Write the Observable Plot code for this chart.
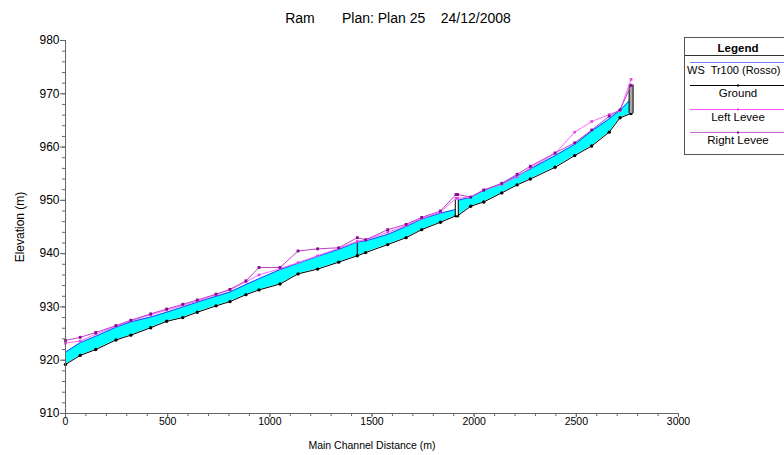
<!DOCTYPE html>
<html>
<head>
<meta charset="utf-8">
<script src="https://cdn.jsdelivr.net/npm/d3@7"></script>
<script src="https://cdn.jsdelivr.net/npm/@observablehq/plot@0.6"></script>
<style>
  body { margin: 0; background: #fff; font-family: "Liberation Sans", Arial, sans-serif; }
  #wrap { position: relative; width: 784px; height: 455px; overflow: hidden; background: #fff; }
  #chart { position: absolute; left: 0; top: 0; }
  #title { position: absolute; top: 10px; left: 0; width: 796px; text-align: center; font-size: 14px; white-space: pre; color: #000; }
  #legend { position: absolute; left: 684px; top: 37px; width: 108px; height: 118px; border: 1px solid #555; background: #fff; box-sizing: border-box; }
  #legend .row { position: absolute; left: 0; width: 106px; text-align: center; font-size: 11.5px; line-height: 14px; white-space: pre; color: #000; }
  #legend .row.first { text-align: left; left: 2px; font-size: 11px; }
  #legend .hdr { font-weight: bold; }
  #legend .sep { position: absolute; left: 0; width: 106px; height: 1px; background: #333; }
  #legend svg { position: absolute; left: 0; }
</style>
</head>
<body>
<div id="wrap">
  <div id="chart"></div>
  <div id="title">Ram       Plan: Plan 25    24/12/2008</div>
  <div id="legend"></div>
</div>
<script>
// Profile stations along the main channel (m)
const stations = [0, 72, 148, 247, 320, 417, 495, 574, 645, 737, 805, 883, 947, 1050, 1138, 1234, 1337, 1428, 1469, 1577, 1667, 1743, 1835, 1911, 1919, 1983, 2047, 2135, 2210, 2275, 2396, 2492, 2575, 2661, 2714, 2768];
// Channel invert (m)
const ground = [919.2, 920.9, 922.0, 923.8, 924.7, 926.1, 927.3, 928.0, 929.0, 930.2, 931.0, 932.3, 933.2, 934.3, 936.2, 937.1, 938.4, 939.6, 940.2, 941.7, 943.0, 944.5, 945.9, 947.1, 947.1, 948.9, 949.7, 951.4, 952.9, 954.0, 956.2, 958.4, 960.2, 962.8, 965.5, 966.3];
// Water surface, Tr100 event (m)
const wsTr100 = [921.5, 923.3, 924.5, 926.2, 927.2, 928.1, 929.0, 930.0, 930.9, 932.0, 932.8, 934.2, 935.3, 937.0, 938.2, 939.5, 940.8, 942.2, 942.4, 943.6, 945.1, 946.5, 947.6, 948.3, 950.0, 950.6, 951.9, 953.1, 954.6, 955.9, 958.4, 960.5, 963.0, 965.3, 966.9, 969.0];
// Levee crests (m)
const leftLevee = [923.2, 923.6, 924.9, 926.4, 927.4, 928.5, 929.4, 930.3, 931.1, 932.3, 933.2, 934.7, 936.0, 937.2, 938.3, 939.6, 941.0, 942.3, 942.6, 944.0, 945.3, 946.6, 947.8, 950.4, 950.4, 950.6, 952.0, 953.0, 954.4, 956.1, 958.8, 962.8, 964.8, 966.1, 966.9, 972.7];
const rightLevee = [923.7, 924.3, 925.2, 926.5, 927.5, 928.7, 929.6, 930.5, 931.3, 932.4, 933.3, 934.9, 937.4, 937.4, 940.5, 940.9, 941.1, 943.0, 942.6, 944.5, 945.5, 946.8, 948.0, 951.1, 951.1, 950.6, 951.9, 953.2, 954.9, 956.4, 958.9, 960.8, 963.2, 965.8, 967.0, 971.6];

// Inline structures: lateral weir, bridge, upstream culvert
const lateralStation = [1428], lateralBottom = [939.6], lateralTop = [942.2];
const bridgeStation = [1915], bridgeBottom = [947.1], bridgeTop = [950.0];
const culvertStation = [2768], culvertBottom = [966.3], culvertTop = [971.6];

const xMajor = d3.range(0, 3001, 500);
const xMinor = d3.range(0, 3001, 100);
const yMajor = d3.range(910, 981, 10);
const yMinor = d3.range(910, 981, 2);

const profile = stations.map((s, i) => ({
  station: s, ground: ground[i], ws: wsTr100[i], left: leftLevee[i], right: rightLevee[i]
}));
const rows = (st, lo, hi) => st.map((s, i) => ({station: s, lo: lo[i], hi: hi[i]}));
const lateral = rows(lateralStation, lateralBottom, lateralTop);
const bridge = rows(bridgeStation, bridgeBottom, bridgeTop);
const culvert = rows(culvertStation, culvertBottom, culvertTop);

const axisColor = "#666";

const chart = Plot.plot({
  width: 784,
  height: 455,
  marginLeft: 65,
  marginRight: 106,
  marginTop: 40,
  marginBottom: 42,
  x: {domain: [0, 3000]},
  y: {domain: [910, 980]},
  style: {fontFamily: "'Liberation Sans', Arial, sans-serif", background: "transparent", color: "#000"},
  marks: [
    Plot.areaY(profile, {x: "station", y1: "ground", y2: "ws", fill: "#00ffff"}),
    Plot.line(profile, {x: "station", y: "ws", stroke: "#3c3cff", strokeWidth: 1}),
    Plot.line(profile, {x: "station", y: "ground", stroke: "#000", strokeWidth: 1}),
    Plot.dot(profile, {x: "station", y: "ground", fill: "#000", r: 1.7}),
    Plot.ruleX(lateral, {x: "station", y1: "lo", y2: "hi", stroke: "#000", strokeWidth: 1}),
    Plot.ruleX(bridge, {x: "station", y1: "lo", y2: "hi", stroke: "#000", strokeWidth: 4}),
    Plot.ruleX(bridge, {x: "station", y1: "lo", y2: "hi", stroke: "#fff", strokeWidth: 2}),
    Plot.ruleX(culvert, {x: "station", y1: "lo", y2: "hi", stroke: "#000", strokeWidth: 5}),
    Plot.ruleX(culvert, {x: "station", y1: "lo", y2: "hi", stroke: "#a8a8a8", strokeWidth: 3}),
    Plot.line(profile, {x: "station", y: "left", stroke: "#ff66ff", strokeWidth: 1}),
    Plot.dot(profile, {x: "station", y: "left", symbol: "square", fill: "#e646e6", r: 1.5}),
    Plot.line(profile, {x: "station", y: "right", stroke: "#c040c8", strokeWidth: 1}),
    Plot.dot(profile, {x: "station", y: "right", symbol: "square", fill: "#8a0a96", r: 1.6}),
    // Axes
    Plot.ruleX([0], {stroke: axisColor}),
    Plot.ruleY([910], {stroke: axisColor}),
    Plot.axisY({ticks: yMinor, tickSize: 3, tickFormat: () => "", stroke: axisColor, label: null}),
    Plot.axisY({ticks: yMajor, tickSize: 5, tickPadding: 1, fontSize: 12, stroke: axisColor, tickFormat: d3.format("d"),
      label: "Elevation (m)", labelAnchor: "center", labelOffset: 50, labelArrow: "none"}),
    Plot.axisX({ticks: xMinor, tickSize: 3, tickFormat: () => "", stroke: axisColor, label: null}),
    Plot.axisX({ticks: xMajor, tickSize: 4, tickPadding: 0, fontSize: 10.5, stroke: axisColor, tickFormat: d3.format("d"),
      label: "Main Channel Distance (m)", labelAnchor: "center", labelOffset: 35, labelArrow: "none"})
  ]
});
document.getElementById("chart").appendChild(chart);

// Legend
const legendItems = [
  {label: "WS  Tr100 (Rosso)", stroke: "#7f7fff", marker: null},
  {label: "Ground", stroke: "#000", marker: "#000"},
  {label: "Left Levee", stroke: "#ff55ff", marker: "#e646e6"},
  {label: "Right Levee", stroke: "#c86ad6", marker: "#7a0a86"}
];
const legend = document.getElementById("legend");
const hdr = document.createElement("div");
hdr.className = "row hdr";
hdr.style.top = "3px";
hdr.textContent = "Legend";
legend.appendChild(hdr);
const sep = document.createElement("div");
sep.className = "sep";
sep.style.top = "17px";
legend.appendChild(sep);
const rowTop = [24, 47, 71, 94];
legendItems.forEach((it, i) => {
  const svg = d3.create("svg").attr("width", 106).attr("height", 5).style("top", (rowTop[i] - 2) + "px");
  svg.append("line").attr("x1", 5).attr("x2", 106).attr("y1", 2.5).attr("y2", 2.5).attr("stroke", it.stroke);
  if (it.marker) svg.append("rect").attr("x", 52).attr("y", 1.5).attr("width", 2).attr("height", 2).attr("fill", it.marker);
  legend.appendChild(svg.node());
  const t = document.createElement("div");
  t.className = i === 0 ? "row first" : "row";
  t.style.top = (rowTop[i] + 1) + "px";
  t.textContent = it.label;
  legend.appendChild(t);
});
</script>
</body>
</html>
